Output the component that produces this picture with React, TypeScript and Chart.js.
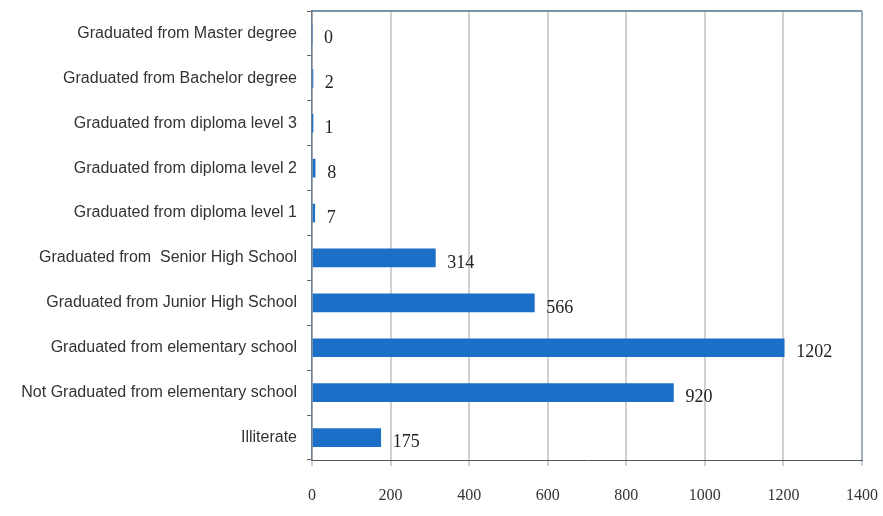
import React, { useEffect, useRef } from "react";
import { Chart, registerables } from "chart.js";

Chart.register(...registerables);

const categories = [
  "Graduated from Master degree",
  "Graduated from Bachelor degree",
  "Graduated from diploma level 3",
  "Graduated from diploma level 2",
  "Graduated from diploma level 1",
  "Graduated from  Senior High School",
  "Graduated from Junior High School",
  "Graduated from elementary school",
  "Not Graduated from elementary school",
  "Illiterate",
];
const values = [0, 2, 1, 8, 7, 314, 566, 1202, 920, 175];
const xMin = 0;
const xMax = 1400;
const xStep = 200;

const labelPlugin = {
  id: "valueLabels",
  afterDatasetsDraw(chart: any) {
    const ctx = chart.ctx;
    const meta = chart.getDatasetMeta(0);
    ctx.save();
    ctx.font = "18px 'Liberation Serif'";
    ctx.fillStyle = "#222";
    ctx.textAlign = "left";
    ctx.textBaseline = "middle";
    meta.data.forEach((bar: any, i: number) => {
      ctx.fillText(String(values[i]), bar.x + 12, bar.y + 5);
    });
    ctx.restore();
  },
};

const borderPlugin = {
  id: "frameBorder",
  afterDraw(chart: any) {
    const { ctx, chartArea } = chart;
    ctx.save();
    ctx.lineWidth = 1.5;
    ctx.strokeStyle = "#4d7186";
    ctx.beginPath();
    ctx.moveTo(chartArea.left, chartArea.top);
    ctx.lineTo(chartArea.right, chartArea.top);
    ctx.stroke();
    ctx.strokeStyle = "#8fa3b6";
    ctx.beginPath();
    ctx.moveTo(chartArea.right, chartArea.top);
    ctx.lineTo(chartArea.right, chartArea.bottom);
    ctx.stroke();
    ctx.restore();
  },
};

function zeroPad(scale: any) {
  scale.paddingTop = 0;
  scale.paddingBottom = 0;
  scale.paddingLeft = 0;
  scale.paddingRight = 0;
}

export default function App() {
  const ref = useRef<HTMLCanvasElement>(null);
  useEffect(() => {
    if (!ref.current) return;
    const chart = new Chart(ref.current, {
      type: "bar",
      data: {
        labels: categories,
        datasets: [
          {
            data: values,
            backgroundColor: "#1b6fc6",
            barThickness: 18,
          },
        ],
      },
      options: {
        indexAxis: "y",
        animation: false,
        responsive: false,
        maintainAspectRatio: false,
        layout: { padding: { top: 11, right: 21, left: 0, bottom: 0 } },
        plugins: { legend: { display: false }, tooltip: { enabled: false } },
        scales: {
          x: {
            min: xMin,
            max: xMax,
            ticks: {
              stepSize: xStep,
              padding: 20,
              color: "#333",
              font: { family: "'Liberation Serif'", size: 16 },
              callback: (v: any) => String(v),
            },
            grid: { color: "#d0d0d0", lineWidth: 2, tickLength: 6, drawTicks: true },
            border: { color: "#555", width: 1 },
            afterFit(scale: any) {
              scale.height = 56;
              zeroPad(scale);
            },
          },
          y: {
            ticks: {
              padding: 10,
              color: "#333",
              font: { family: "'Liberation Sans'", size: 16 },
            },
            grid: {
              drawOnChartArea: false,
              drawTicks: true,
              tickLength: 5,
              color: "#666",
              offset: true,
            },
            border: { color: "#6f7f8f", width: 1.5 },
            afterFit(scale: any) {
              scale.width = 312;
              zeroPad(scale);
            },
          },
        },
      },
      plugins: [labelPlugin, borderPlugin],
    });
    return () => chart.destroy();
  }, []);
  return (
    <div style={{ position: "fixed", left: 0, top: 0, width: 883, height: 516, background: "#fff" }}>
      <canvas ref={ref} width={883} height={516} />
    </div>
  );
}
